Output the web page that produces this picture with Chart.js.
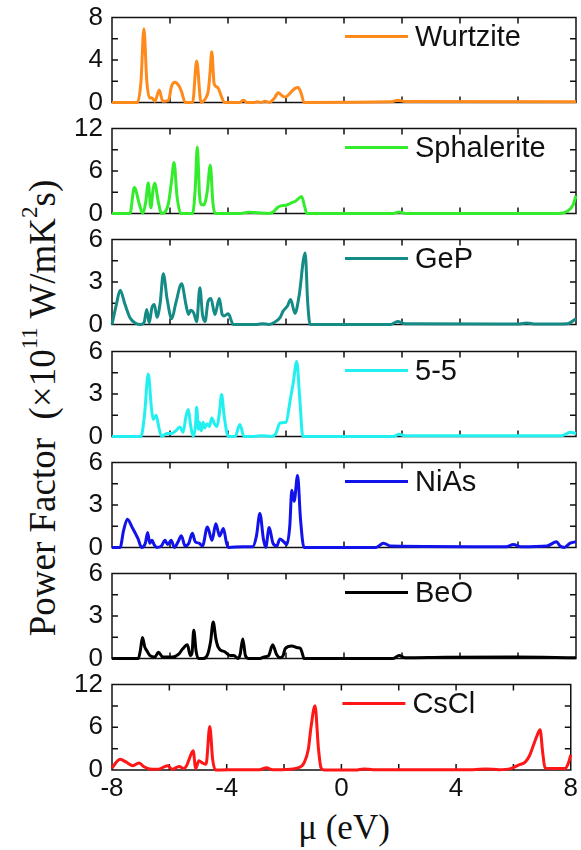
<!DOCTYPE html>
<html>
<head>
<meta charset="utf-8">
<script src="https://cdn.jsdelivr.net/npm/chart.js@4.4.1/dist/chart.umd.min.js"></script>
<style>
  html, body { margin: 0; padding: 0; background: #fff; }
  #wrap { position: relative; width: 581px; height: 850px; overflow: hidden; }
  #wrap canvas { position: absolute; left: 0; }
  .title { position: absolute; white-space: nowrap; font-family: "Liberation Serif", "Times New Roman", serif; color: #111; }
  .title sup { font-size: 62%; vertical-align: 0.75em; line-height: 0; }
  #ytitle { left: 42px; top: 408px; font-size: 37px; transform: translate(-50%, -50%) rotate(-90deg); }
  #xtitle { left: 344px; top: 828px; font-size: 35px; transform: translate(-50%, -50%); }
</style>
</head>
<body>
<div id="wrap">
  <div id="ytitle" class="title">Power Factor&nbsp; (×10<sup>11</sup> W/mK<sup>2</sup>s)</div>
  <div id="xtitle" class="title">μ (eV)</div>
</div>
<script>
// panels, top to bottom
const names = ['Wurtzite', 'Sphalerite', 'GeP', '5-5', 'NiAs', 'BeO', 'CsCl'];
const colors = ['#ff8a1c', '#33ec2c', '#158b86', '#22f0f0', '#1212ea', '#000000', '#ff1616'];
const yMax = [8, 12, 6, 6, 6, 6, 12];
const xTicks = [-8, -4, 0, 4, 8];

const wurtziteX = [-8, -7.12, -7.0, -6.90, -6.80, -6.70, -6.63, -6.52, -6.37, -6.25, -6.05, -5.95, -5.83, -5.70, -5.60, -5.48,
  -5.22, -5.08, -4.93, -4.75, -4.68, -4.62, -4.56, -4.48, -4.41, -4.33, -4.22, -4.12, -3.60, -3.47, -3.35, -3.1, -3.0, -2.85,
  -2.72, -2.58, -2.4, -2.27, -2.12, -2.03, -1.85, -1.70, -1.58, -1.47, -1.38, 1.6, 1.86, 2.1, 8];
const wurtziteY = [0, 0, 2.0, 6.95, 2.0, 0.4, 0.45, 0.1, 1.16, 0.1, 0.2, 1.5, 1.9, 1.6, 1.0, 0,
  0, 3.9, 0, 0.5, 1.1, 2.8, 4.78, 1.8, 1.5, 1.3, 0.5, 0, 0, 0.2, 0, 0, 0.05, 0,
  0.12, 0, 0.4, 0.9, 0.6, 0.5, 0.9, 1.3, 1.4, 0.8, 0, 0.05, 0.2, 0.08, 0.05];

const sphaleriteX = [-8, -7.38, -7.23, -7.05, -6.94, -6.84, -6.75, -6.66, -6.58, -6.52, -6.42, -6.29, -6.05, -5.95, -5.86,
  -5.76, -5.63, -5.22, -5.13, -5.06, -4.98, -4.93, -4.83, -4.72, -4.61, -4.52, -4.45, -3.6, -3.3, -3.0, -2.6, -2.44, -2.30,
  -2.18, -2.0, -1.86, -1.65, -1.46, -1.36, -1.28, 1.7, 1.9, 2.1, 7.4, 7.7, 7.9, 8];
const sphaleriteY = [0, 0, 3.67, 1.2, 0, 1.5, 4.3, 0.8, 3.5, 4.3, 2.0, 0, 1.5, 4.5, 7.2,
  2.5, 0, 0, 3.5, 9.4, 2.5, 1.3, 1.2, 3.0, 6.8, 1.5, 0, 0, 0.15, 0.1, 0, 0.2, 0.8,
  1.07, 1.15, 1.4, 1.8, 2.4, 1.0, 0, 0, 0.2, 0, 0, 0.3, 1.2, 2.5];

const gepX = [-8, -7.85, -7.72, -7.55, -7.38, -7.2, -7.03, -6.90, -6.80, -6.72, -6.62, -6.54, -6.45, -6.34, -6.23, -6.10,
  -5.94, -5.80, -5.60, -5.45, -5.36, -5.29, -5.18, -5.08, -4.97, -4.88, -4.79, -4.69, -4.59, -4.45, -4.30, -4.20, -4.14,
  -3.99, -3.82, -3.0, -2.8, -2.6, -2.44, -2.2, -2.1, -1.95, -1.84, -1.69, -1.55, -1.34, -1.25, -1.17, 1.6, 1.85, 2.1,
  6.0, 6.3, 6.6, 7.7, 8];
const gepY = [0, 1.4, 2.42, 1.4, 0.47, 0.1, 0, 0.1, 1.06, 0.1, 1.2, 1.41, 0.5, 1.5, 3.58, 1.8,
  0.4, 1.5, 2.87, 1.4, 0.7, 1.0, 0.8, 0.2, 2.6, 0.7, 0.2, 1.6, 1.83, 0.7, 1.83, 0.7, 0.6,
  0.75, 0, 0, 0.05, 0, 0.1, 0.5, 0.94, 1.3, 1.76, 0.78, 2.0, 5.06, 1.5, 0, 0, 0.2, 0.05,
  0.02, 0.1, 0.02, 0.05, 0.4];

const fiveX = [-8, -7.0, -6.88, -6.75, -6.64, -6.58, -6.48, -6.38, -6.29, -6.11, -5.95, -5.80, -5.66, -5.55, -5.45, -5.37,
  -5.29, -5.20, -5.12, -5.08, -5.02, -4.98, -4.92, -4.86, -4.80, -4.72, -4.64, -4.56, -4.47, -4.38, -4.30, -4.22, -4.13,
  -3.99, -3.75, -3.59, -3.45, -3.1, -2.85, -2.5, -2.35, -2.21, -2.0, -1.86, -1.75, -1.63, -1.52, -1.42, 1.7, 1.9, 2.1,
  7.5, 7.8, 8];
const fiveY = [0, 0, 1.5, 4.42, 2.0, 1.2, 1.5, 0.6, 0, 0.2, 0.2, 0.4, 0.66, 0.3, 1.4, 1.9,
  0.8, 0, 0.8, 2.07, 0.5, 1.0, 0.4, 1.0, 0.6, 0.9, 0.7, 1.3, 0.9, 0.7, 1.6, 2.96, 1.4,
  0, 0, 0.85, 0, 0, 0.05, 0, 0.2, 0.95, 1.0, 2.5, 3.8, 5.3, 2.5, 0, 0, 0.15, 0.05,
  0.05, 0.3, 0.2];

const niasX = [-8, -7.72, -7.60, -7.47, -7.30, -7.10, -6.98, -6.85, -6.77, -6.70, -6.62, -6.55, -6.45, -6.30, -6.17, -6.08,
  -5.96, -5.85, -5.72, -5.61, -5.48, -5.35, -5.23, -5.13, -5.0, -4.88, -4.71, -4.55, -4.42, -4.29, -4.16, -4.05, -3.99,
  -3.5, -3.15, -3.02, -2.90, -2.78, -2.70, -2.58, -2.45, -2.32, -2.21, -2.08, -1.97, -1.87, -1.80, -1.72, -1.60, -1.50,
  -1.38, 1.1, 1.36, 1.6, 5.6, 5.84, 6.1, 7.0, 7.33, 7.45, 7.6, 7.8, 8];
const niasY = [0, 0, 1.2, 2.0, 1.4, 0.6, 0, 0.3, 1.06, 0.3, 0.5, 0.2, 0, 0.1, 0.5, 0.2,
  0.5, 0, 0.4, 0.83, 0.1, 0.3, 1.0, 0.4, 0.3, 0.1, 1.45, 0.5, 1.68, 0.8, 1.33, 0.3, 0,
  0.05, 0.05, 0.8, 2.4, 0.6, 0, 1.4, 0.3, 0.1, 0.6, 0.4, 0.2, 1.5, 4.04, 3.26, 5.08, 2.0,
  0, 0, 0.3, 0.1, 0.05, 0.2, 0.05, 0.1, 0.4, 0.1, 0, 0.3, 0.4];

const beoX = [-8, -7.09, -7.02, -6.95, -6.87, -6.80, -6.69, -6.52, -6.40, -6.25, -6.05, -5.90, -5.70, -5.56, -5.40, -5.30,
  -5.24, -5.18, -5.10, -5.02, -4.85, -4.70, -4.60, -4.51, -4.42, -4.34, -4.10, -3.92, -3.80, -3.65, -3.58, -3.49, -3.40,
  -3.30, -2.90, -2.75, -2.60, -2.46, -2.33, -2.20, -2.10, -2.03, -1.80, -1.60, -1.50, -1.43, -1.38, 1.7, 1.9, 2.1, 3.5,
  5.9, 8];
const beoY = [0, 0, 0.6, 1.48, 0.8, 0.55, 0.2, 0.1, 0.43, 0.1, 0.1, 0.1, 0.3, 0.68, 0.96, 0.2,
  0.4, 2.0, 0.5, 0, 0, 0.3, 1.2, 2.58, 1.4, 0.8, 0.45, 0.2, 0.2, 0, 0.3, 1.38, 0.2,
  0, 0, 0.1, 0.2, 0.96, 0.3, 0.05, 0.2, 0.68, 0.87, 0.75, 0.7, 0.3, 0, 0, 0.2, 0.05, 0.08,
  0.1, 0.05];

const csclX = [-8, -7.85, -7.72, -7.50, -7.27, -7.06, -6.90, -6.69, -6.40, -6.06, -5.90, -5.66, -5.50, -5.40, -5.31, -5.17,
  -5.08, -4.97, -4.85, -4.72, -4.59, -4.49, -4.39, -3.5, -2.85, -2.61, -2.40, -2.1, -1.52, -1.30, -1.15, -1.06, -0.92,
  -0.80, -0.71, -0.6, 0.5, 0.78, 1.1, 4.6, 5.03, 5.5, 5.9, 6.18, 6.41, 6.56, 6.70, 6.82, 6.93, 7.02, 7.10, 7.3, 7.79,
  7.9, 8];
const csclY = [0.25, 1.1, 1.5, 1.1, 0.6, 1.0, 0.5, 0.15, 0.1, 0.6, 0.1, 0.5, 0.2, 0.6, 1.5, 2.7,
  0.2, 1.3, 1.0, 0.8, 6.1, 1.5, 0, 0.05, 0.05, 0.3, 0.05, 0.05, 0.3, 1.0, 3.0, 6.0, 9.04,
  3.0, 0.3, 0, 0, 0.15, 0.05, 0.05, 0.15, 0.05, 0.2, 0.7, 1.1, 2.0, 3.5, 4.8, 5.65, 2.5, 0.3, 0.2, 0.2,
  0.8, 2.1];

const seriesX = [wurtziteX, sphaleriteX, gepX, fiveX, niasX, beoX, csclX];
const seriesY = [wurtziteY, sphaleriteY, gepY, fiveY, niasY, beoY, csclY];

// layout of the stacked panels (px)
const panelTops = [18, 129, 240, 352, 463, 574, 685];
const panelH = 85;
const pad = 22;
const axisW = 112;
const tickFont = { family: '"Liberation Sans", Arial, sans-serif', size: 26 };

// box with inward ticks on all four sides, painted underneath the curve;
// then the line sample + name, starting at mu = 0
const panelPlugin = {
  id: 'panel',
  afterDatasetsDraw(chart) {
    const ctx = chart.ctx;
    const a = chart.chartArea;
    const x = chart.scales.x;
    const y = chart.scales.y;
    const ds = chart.data.datasets[0];

    ctx.save();
    ctx.globalCompositeOperation = 'destination-over';
    ctx.strokeStyle = '#111';
    ctx.lineWidth = 1.5;
    ctx.beginPath();
    ctx.rect(a.left, a.top, a.right - a.left, a.bottom - a.top);
    for (let v = -6; v <= 6; v += 2) {
      const px = x.getPixelForValue(v);
      ctx.moveTo(px, a.bottom); ctx.lineTo(px, a.bottom - 6);
      ctx.moveTo(px, a.top); ctx.lineTo(px, a.top + 6);
    }
    const step = y.max / 4;
    for (let k = 1; k < 4; k++) {
      const py = y.getPixelForValue(k * step);
      ctx.moveTo(a.left, py); ctx.lineTo(a.left + 6, py);
      ctx.moveTo(a.right, py); ctx.lineTo(a.right - 6, py);
    }
    ctx.stroke();
    ctx.restore();

    const x0 = x.getPixelForValue(0);
    const yy = a.top + 19;
    ctx.save();
    ctx.strokeStyle = ds.borderColor;
    ctx.lineWidth = 3;
    ctx.beginPath();
    ctx.moveTo(x0 + 1, yy);
    ctx.lineTo(x0 + 64, yy);
    ctx.stroke();
    ctx.fillStyle = '#111';
    ctx.font = '29px "Liberation Sans", Arial, sans-serif';
    ctx.textBaseline = 'middle';
    ctx.fillText(ds.label, x0 + 71, yy + 1);
    ctx.restore();
  }
};

function buildPanel(canvas, i) {
  const last = i === names.length - 1;
  return new Chart(canvas.getContext('2d'), {
    type: 'line',
    data: {
      datasets: [{
        label: names[i],
        data: seriesX[i].map((x, k) => ({ x: x, y: seriesY[i][k] })),
        borderColor: colors[i],
        borderWidth: 3,
        pointRadius: 0,
        fill: false,
        cubicInterpolationMode: 'monotone',
        clip: 3
      }]
    },
    options: {
      responsive: false,
      maintainAspectRatio: false,
      animation: false,
      devicePixelRatio: 1,
      layout: { padding: { top: pad, right: 5, left: 0, bottom: last ? 0 : pad } },
      plugins: { legend: { display: false }, tooltip: { enabled: false } },
      scales: {
        x: {
          type: 'linear',
          min: -8,
          max: 8,
          afterBuildTicks: s => { s.ticks = xTicks.map(v => ({ value: v })); },
          afterFit: s => { s.height = last ? 45 : 0; },
          grid: { display: false, drawTicks: false },
          border: { display: false },
          ticks: { display: last, padding: 3, color: '#111', font: tickFont, maxRotation: 0 }
        },
        y: {
          min: 0,
          max: yMax[i],
          afterBuildTicks: s => { s.ticks = [0, yMax[i] / 2, yMax[i]].map(v => ({ value: v })); },
          afterFit: s => { s.width = axisW; },
          grid: { display: false, drawTicks: false },
          border: { display: false },
          ticks: { padding: 9, color: '#111', font: tickFont, autoSkip: false }
        }
      }
    },
    plugins: [panelPlugin]
  });
}

const wrap = document.getElementById('wrap');

names.forEach((name, i) => {
  const last = i === names.length - 1;
  const canvas = document.createElement('canvas');
  canvas.width = 581;
  canvas.height = pad + panelH + (last ? 45 : pad);
  wrap.appendChild(canvas);

  let chart = buildPanel(canvas, i);
  // the axis labels eat a little extra room; grow the canvas until the plot box is panelH tall
  const diff = panelH - (chart.chartArea.bottom - chart.chartArea.top);
  if (Math.abs(diff) > 0.5) {
    const h = canvas.height + Math.round(diff);
    chart.destroy();
    canvas.height = h;
    chart = buildPanel(canvas, i);
  }
  canvas.style.top = (panelTops[i] - chart.chartArea.top) + 'px';
});
</script>
</body>
</html>
